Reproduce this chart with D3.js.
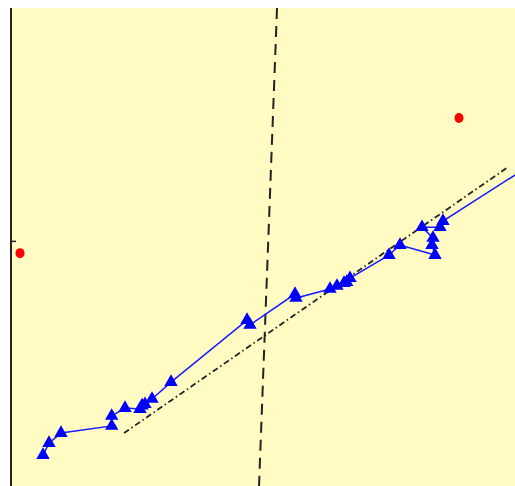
<!DOCTYPE html>
<html>
<head>
<meta charset="utf-8">
<script src="https://cdn.jsdelivr.net/npm/d3@7"></script>
<style>
  html, body { margin: 0; padding: 0; background: #ffffff; overflow: hidden; }
  svg { display: block; }
</style>
</head>
<body>
<script>
// ---- data ----
const seriesX = [6.35, 7.54, 9.92, 19.98, 19.98, 22.62, 25.6, 26.0, 26.59, 27.98, 31.75, 46.83, 47.42, 56.35, 56.55, 63.29, 64.68, 66.07, 66.6, 67.26, 75.0, 77.18, 84.13, 83.53, 83.73, 81.55, 85.12, 85.71, 103.0];
const seriesY = [-0.874, -0.825, -0.784, -0.755, -0.714, -0.682, -0.686, -0.672, -0.666, -0.645, -0.576, -0.323, -0.343, -0.217, -0.233, -0.196, -0.184, -0.172, -0.168, -0.152, -0.058, -0.017, -0.058, -0.017, 0.012, 0.056, 0.056, 0.081, 0.308];
const outlierX = [1.79, 88.89];
const outlierY = [-0.05, 0.501];
const vLineX = [52.78, 49.21];
const vLineY = [0.95, -1.0];
const fitX = [22.42, 98.61];
const fitY = [-0.784, 0.301];
const yTicks = [0];

const W = 515, H = 486;
const plot = {left: 11, top: 8, right: 515, bottom: 486};

const x = d3.scaleLinear().domain([0, 100]).range([plot.left, plot.right]);
const y = d3.scaleLinear().domain([-1, 0.95]).range([plot.bottom, plot.top]);

const svg = d3.select("body").append("svg").attr("width", W).attr("height", H);

svg.append("defs").append("clipPath").attr("id", "clip")
  .append("rect").attr("x", plot.left).attr("y", plot.top)
  .attr("width", plot.right - plot.left).attr("height", plot.bottom - plot.top);

svg.append("rect").attr("x", plot.left).attr("y", plot.top)
  .attr("width", plot.right - plot.left).attr("height", plot.bottom - plot.top)
  .attr("fill", "#fffbc3");

const g = svg.append("g").attr("clip-path", "url(#clip)");

const line = d3.line().x(d => x(d[0])).y(d => y(d[1]));

// vertical dashed line
g.append("path").datum(d3.zip(vLineX, vLineY)).attr("d", line)
  .attr("fill", "none").attr("stroke", "#222").attr("stroke-width", 2)
  .attr("stroke-dasharray", "11,7");

// dash-dot fit line
g.append("path").datum(d3.zip(fitX, fitY)).attr("d", line)
  .attr("fill", "none").attr("stroke", "#222").attr("stroke-width", 1.8)
  .attr("stroke-dasharray", "6,3,1.5,3");

// blue series
const pts = d3.zip(seriesX, seriesY);
g.append("path").datum(pts).attr("d", line)
  .attr("fill", "none").attr("stroke", "#1a1aff").attr("stroke-width", 1.5);

const tri = d3.symbol().type(d3.symbolTriangle).size(78);
g.selectAll(".tri").data(pts).enter().append("path")
  .attr("class", "tri")
  .attr("transform", d => `translate(${x(d[0])},${y(d[1])})`)
  .attr("d", tri).attr("fill", "#0000ff");

// red outliers
g.selectAll(".dot").data(d3.zip(outlierX, outlierY)).enter().append("ellipse")
  .attr("cx", d => x(d[0])).attr("cy", d => y(d[1]))
  .attr("rx", 4.5).attr("ry", 5).attr("fill", "#ff0000");

// left axis
const axis = d3.axisLeft(y).tickValues(yTicks).tickSize(-5).tickFormat("");
const ax = svg.append("g").attr("transform", `translate(${plot.left},0)`).call(axis);
ax.select(".domain").attr("stroke", "#222").attr("stroke-width", 2).attr("d", `M0,${plot.top}V${plot.bottom}`);
ax.selectAll(".tick line").attr("stroke", "#222").attr("stroke-width", 1.5);
</script>
</body>
</html>
